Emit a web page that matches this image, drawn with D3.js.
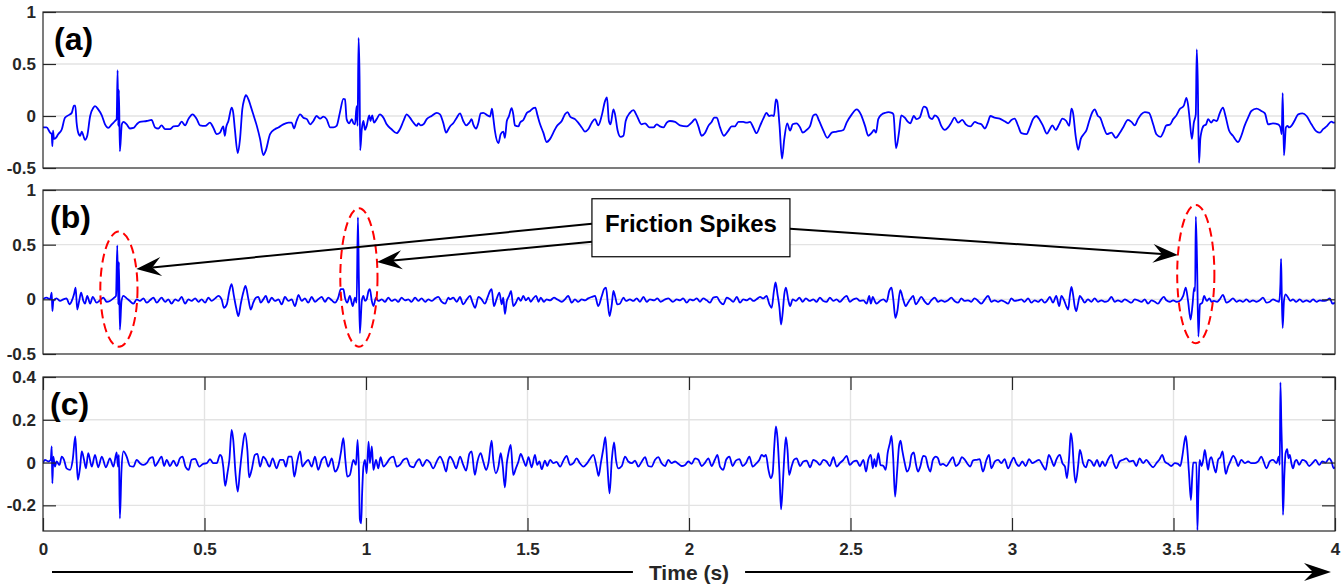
<!DOCTYPE html>
<html>
<head>
<meta charset="utf-8">
<script src="https://cdn.jsdelivr.net/npm/d3@7"></script>
<style>
  body { margin: 0; background: #fff; }
  svg { display: block; font-family: "Liberation Sans", Arial, Helvetica, sans-serif; }
</style>
</head>
<body>
<svg id="chart" width="1343" height="587"></svg>
<script>
// ---- Signals: [time (s), amplitude] ----
// (a) raw signal
const signalA = [
[0,-0.11],[0.011,-0.11],[0.022,-0.16],[0.027,-0.175],[0.029,-0.29],[0.031,-0.14],[0.034,-0.22],[0.040,-0.21],[0.047,-0.175],[0.058,-0.13],
[0.068,-0.016],[0.078,0.006],[0.089,0.03],[0.096,0.10],[0.100,0.10],[0.104,-0.064],[0.109,-0.16],[0.115,-0.19],[0.120,-0.15],[0.125,-0.19],
[0.130,-0.23],[0.137,-0.19],[0.146,0],[0.156,0.08],[0.161,0.095],[0.171,0.064],[0.182,0.006],[0.192,-0.08],[0.202,-0.115],[0.213,-0.08],
[0.223,-0.048],[0.228,-0.03],[0.231,0.44],[0.233,-0.095],[0.235,0.25],[0.238,-0.34],[0.244,-0.08],[0.249,-0.057],[0.259,-0.08],[0.269,-0.12],
[0.280,-0.115],[0.290,-0.08],[0.300,-0.057],[0.321,-0.048],[0.336,-0.038],[0.347,-0.11],[0.357,-0.12],[0.367,-0.09],[0.378,-0.127],[0.393,-0.127],
[0.404,-0.10],[0.419,-0.095],[0.429,-0.054],[0.440,-0.09],[0.450,-0.03],[0.463,0.016],[0.476,-0.03],[0.486,-0.09],[0.502,-0.095],[0.517,-0.064],
[0.527,-0.11],[0.538,-0.175],[0.548,-0.16],[0.558,-0.10],[0.563,-0.19],[0.567,-0.11],[0.574,-0.048],[0.584,0.08],[0.589,0.03],[0.594,-0.127],
[0.603,-0.357],[0.610,-0.22],[0.617,0.064],[0.623,0.16],[0.628,0.20],[0.636,0.16],[0.643,0.095],[0.651,0.016],[0.662,-0.095],[0.672,-0.22],
[0.682,-0.375],[0.690,-0.33],[0.703,-0.175],[0.718,-0.127],[0.729,-0.11],[0.744,-0.08],[0.760,-0.064],[0.770,-0.064],[0.777,-0.12],[0.785,-0.048],
[0.796,0.016],[0.806,-0.016],[0.817,-0.03],[0.827,-0.08],[0.837,-0.048],[0.847,0],[0.858,-0.025],[0.868,-0.006],[0.878,-0.03],[0.889,-0.11],
[0.899,-0.11],[0.909,-0.095],[0.919,0.03],[0.930,0.165],[0.935,0.16],[0.940,-0.03],[0.948,-0.07],[0.956,-0.03],[0.961,-0.07],[0.966,-0.08],
[0.971,0.095],[0.974,-0.095],[0.977,0.75],[0.980,0.38],[0.982,-0.33],[0.987,-0.127],[0.992,-0.048],[0.997,-0.134],[1.002,-0.095],[1.010,0.006],
[1.014,-0.048],[1.019,0.006],[1.025,-0.064],[1.033,-0.03],[1.043,0.016],[1.054,-0.016],[1.064,-0.08],[1.079,-0.127],[1.095,-0.165],[1.105,-0.127],
[1.116,-0.048],[1.126,0.016],[1.136,-0.016],[1.147,-0.064],[1.157,-0.095],[1.162,-0.07],[1.169,-0.09],[1.178,-0.08],[1.188,-0.03],[1.203,0],
[1.219,0.03],[1.229,0.016],[1.239,-0.064],[1.248,-0.16],[1.255,-0.127],[1.260,-0.10],[1.270,-0.07],[1.281,-0.016],[1.291,0.025],[1.301,-0.048],
[1.310,-0.09],[1.320,-0.064],[1.327,-0.03],[1.332,-0.08],[1.341,-0.12],[1.348,-0.064],[1.355,0.025],[1.363,0.03],[1.376,0.006],[1.384,-0.006],
[1.390,0.07],[1.394,-0.016],[1.399,-0.14],[1.410,-0.26],[1.417,-0.175],[1.425,-0.15],[1.430,-0.21],[1.436,-0.048],[1.442,-0.006],[1.451,0.076],
[1.456,0.016],[1.461,-0.09],[1.472,-0.10],[1.477,-0.064],[1.487,-0.038],[1.498,0.03],[1.508,0.048],[1.518,0.076],[1.524,0.08],[1.531,0.006],
[1.539,-0.08],[1.549,-0.16],[1.559,-0.25],[1.570,-0.22],[1.580,-0.16],[1.590,-0.10],[1.606,-0.048],[1.616,0.016],[1.624,0.038],[1.632,-0.006],
[1.647,-0.03],[1.657,-0.064],[1.668,-0.11],[1.678,-0.15],[1.688,-0.127],[1.699,-0.064],[1.709,-0.03],[1.719,-0.09],[1.730,0.006],[1.740,0.143],
[1.746,0.18],[1.752,-0.048],[1.757,-0.08],[1.766,0.064],[1.771,0.016],[1.779,-0.14],[1.788,-0.20],[1.797,-0.19],[1.804,-0.048],[1.817,0.03],
[1.828,0.057],[1.838,0.006],[1.853,-0.08],[1.864,-0.07],[1.877,-0.11],[1.890,-0.11],[1.900,-0.08],[1.910,-0.10],[1.921,-0.11],[1.931,-0.064],
[1.941,-0.048],[1.957,-0.057],[1.972,-0.09],[1.993,-0.10],[2.008,-0.064],[2.019,-0.03],[2.029,-0.10],[2.039,-0.19],[2.050,-0.16],[2.060,-0.095],
[2.070,-0.057],[2.078,-0.016],[2.086,-0.016],[2.096,-0.11],[2.108,-0.19],[2.122,-0.14],[2.132,-0.10],[2.142,-0.10],[2.153,-0.057],[2.168,-0.057],
[2.178,-0.064],[2.189,-0.057],[2.199,-0.11],[2.209,-0.165],[2.220,-0.095],[2.230,-0.025],[2.240,0.03],[2.248,0],[2.256,0.006],[2.263,0],
[2.269,0.16],[2.273,0.143],[2.280,-0.08],[2.288,-0.41],[2.295,-0.22],[2.304,-0.07],[2.313,-0.14],[2.321,-0.08],[2.333,-0.07],[2.344,-0.11],
[2.352,-0.16],[2.364,-0.134],[2.375,-0.095],[2.385,0.006],[2.393,0.016],[2.403,-0.048],[2.416,-0.14],[2.428,-0.21],[2.442,-0.16],[2.457,-0.15],
[2.478,-0.134],[2.488,-0.064],[2.504,0.016],[2.519,0.064],[2.532,0.016],[2.545,-0.095],[2.555,-0.19],[2.566,-0.16],[2.573,-0.134],[2.579,-0.16],
[2.586,-0.03],[2.597,0.016],[2.607,0.03],[2.617,0.038],[2.628,0.03],[2.633,0.016],[2.641,-0.31],[2.650,-0.16],[2.657,0.006],[2.668,-0.016],
[2.678,-0.057],[2.685,-0.07],[2.696,0],[2.704,-0.03],[2.714,-0.016],[2.727,0.09],[2.735,0.08],[2.745,-0.016],[2.753,-0.03],[2.761,0.006],
[2.771,-0.016],[2.781,-0.095],[2.792,-0.134],[2.802,-0.11],[2.812,-0.064],[2.822,-0.016],[2.833,-0.064],[2.846,-0.038],[2.857,-0.08],[2.871,-0.10],
[2.885,-0.057],[2.895,-0.07],[2.905,-0.08],[2.916,-0.12],[2.926,-0.057],[2.933,0],[2.946,-0.016],[2.962,-0.025],[2.977,-0.05],[2.988,-0.07],
[2.998,-0.038],[3.008,-0.025],[3.019,-0.095],[3.029,-0.165],[3.045,-0.175],[3.055,-0.11],[3.065,-0.03],[3.075,0],[3.086,-0.038],[3.096,-0.095],
[3.108,-0.17],[3.117,-0.127],[3.125,-0.09],[3.135,-0.134],[3.146,-0.08],[3.156,-0.025],[3.168,-0.048],[3.177,-0.095],[3.184,0.07],[3.189,0.03],
[3.197,-0.19],[3.205,-0.325],[3.213,-0.22],[3.222,-0.175],[3.230,-0.14],[3.240,-0.038],[3.249,0.038],[3.256,0.064],[3.266,0],[3.273,-0.016],
[3.284,-0.11],[3.294,-0.175],[3.308,-0.16],[3.321,-0.21],[3.334,-0.16],[3.344,-0.11],[3.359,-0.038],[3.370,-0.057],[3.380,-0.09],[3.390,-0.03],
[3.400,0.016],[3.411,0.038],[3.424,0.03],[3.437,-0.08],[3.447,-0.175],[3.460,-0.20],[3.468,-0.16],[3.478,-0.09],[3.489,-0.083],[3.499,-0.03],
[3.509,0.006],[3.519,0.064],[3.532,0.10],[3.540,0.175],[3.545,0.11],[3.550,-0.03],[3.557,-0.22],[3.563,-0.064],[3.569,0.016],[3.572,0.64],
[3.575,0.35],[3.579,-0.45],[3.583,-0.22],[3.586,-0.16],[3.593,-0.095],[3.601,-0.08],[3.607,-0.03],[3.617,-0.064],[3.624,-0.038],[3.634,-0.048],
[3.643,0.025],[3.653,0.08],[3.661,0],[3.672,-0.14],[3.684,-0.19],[3.700,-0.25],[3.710,-0.19],[3.720,-0.095],[3.731,-0.016],[3.741,0.048],
[3.757,0.07],[3.772,0.048],[3.783,0.025],[3.793,-0.08],[3.808,-0.07],[3.824,-0.08],[3.831,-0.11],[3.835,-0.175],[3.838,0.22],[3.842,-0.38],
[3.848,-0.11],[3.853,-0.095],[3.858,-0.11],[3.865,-0.095],[3.876,-0.038],[3.886,0.016],[3.899,0.025],[3.912,0],[3.927,-0.08],[3.943,-0.15],
[3.953,-0.16],[3.963,-0.127],[3.974,-0.10],[3.989,-0.054],[3.996,-0.064],[4.0,-0.06]
];

// (b) filtered signal
const signalB = [
[0,0],[0.011,0.015],[0.022,0],[0.027,0.062],[0.029,-0.108],[0.032,-0.015],[0.042,0.009],[0.053,-0.015],[0.063,0],[0.073,0.009],
[0.082,-0.046],[0.089,-0.015],[0.096,0.046],[0.101,0.108],[0.106,-0.093],[0.112,-0.015],[0.118,0.062],[0.125,-0.015],[0.130,-0.040],[0.137,0.031],
[0.146,-0.040],[0.154,0.022],[0.166,-0.031],[0.174,-0.015],[0.187,0.015],[0.197,-0.022],[0.207,-0.015],[0.218,0.009],[0.226,0.031],[0.230,0.494],
[0.233,-0.046],[0.235,0.34],[0.238,-0.278],[0.243,-0.015],[0.249,0.031],[0.259,0.009],[0.269,-0.015],[0.280,-0.040],[0.290,0],[0.300,-0.015],
[0.311,0.009],[0.321,-0.031],[0.331,-0.009],[0.342,0.015],[0.352,-0.031],[0.367,0.015],[0.378,-0.022],[0.388,0],[0.398,-0.040],[0.409,0],
[0.419,-0.015],[0.429,0.022],[0.440,-0.040],[0.450,0],[0.460,-0.015],[0.471,0.009],[0.481,-0.022],[0.491,0],[0.502,-0.031],[0.512,0.015],
[0.522,-0.015],[0.533,0.009],[0.543,0.031],[0.553,0],[0.560,-0.077],[0.569,-0.046],[0.577,0.077],[0.584,0.139],[0.591,0.031],[0.598,-0.077],
[0.605,-0.154],[0.612,-0.046],[0.620,0.062],[0.627,0.123],[0.636,0],[0.643,-0.093],[0.651,-0.031],[0.659,0.015],[0.667,0.022],[0.674,-0.031],
[0.682,0],[0.690,0.031],[0.698,-0.031],[0.708,0.015],[0.718,-0.015],[0.729,0],[0.739,-0.046],[0.749,0.022],[0.760,-0.015],[0.770,0],
[0.780,-0.062],[0.791,0.040],[0.801,-0.015],[0.811,0.009],[0.821,-0.031],[0.832,0.022],[0.842,-0.022],[0.852,0],[0.863,0.022],[0.873,-0.022],
[0.883,0.015],[0.894,-0.009],[0.904,-0.031],[0.914,0.015],[0.922,0.093],[0.930,0.093],[0.935,0.015],[0.942,-0.031],[0.950,0.031],[0.959,-0.062],
[0.966,0.015],[0.971,-0.031],[0.975,0.75],[0.978,0.17],[0.981,-0.309],[0.987,-0.015],[0.992,0.031],[0.997,-0.015],[1.002,0],[1.008,0.077],
[1.012,0.093],[1.018,-0.015],[1.023,-0.062],[1.031,0.015],[1.038,-0.015],[1.049,0],[1.059,-0.022],[1.069,0.015],[1.079,-0.015],[1.090,0],
[1.100,-0.022],[1.110,0.015],[1.121,-0.009],[1.131,0],[1.141,-0.022],[1.152,0.015],[1.162,-0.015],[1.172,0.009],[1.183,-0.022],[1.193,0],
[1.203,-0.015],[1.214,0.009],[1.224,0.022],[1.234,-0.022],[1.245,-0.040],[1.255,0.015],[1.260,0],[1.270,0.015],[1.281,-0.022],[1.291,0.022],
[1.301,-0.046],[1.312,0],[1.322,0.031],[1.330,-0.031],[1.338,-0.077],[1.348,0.022],[1.358,0],[1.368,-0.040],[1.376,0.015],[1.384,0.077],
[1.389,0.093],[1.396,-0.062],[1.404,0],[1.413,0.062],[1.420,-0.046],[1.425,0.015],[1.430,-0.133],[1.436,-0.015],[1.443,0.031],[1.449,0.077],
[1.456,-0.062],[1.464,-0.031],[1.472,0.015],[1.479,-0.015],[1.487,0.031],[1.495,-0.009],[1.503,0.015],[1.510,-0.022],[1.518,0.009],[1.527,0.031],
[1.534,-0.022],[1.541,0.015],[1.551,-0.022],[1.559,0],[1.570,-0.009],[1.582,0.015],[1.592,0],[1.606,-0.022],[1.616,0],[1.626,0.031],
[1.637,-0.031],[1.647,0],[1.657,-0.022],[1.668,0],[1.678,-0.009],[1.688,0.009],[1.699,0.022],[1.709,0.031],[1.719,-0.062],[1.730,0.031],
[1.737,0.093],[1.743,0.108],[1.748,-0.015],[1.754,-0.154],[1.761,-0.046],[1.766,0.077],[1.771,0.031],[1.778,-0.046],[1.786,-0.040],[1.797,0.015],
[1.805,-0.015],[1.817,0],[1.828,-0.015],[1.838,0.009],[1.848,-0.022],[1.859,0.022],[1.869,-0.022],[1.879,0],[1.892,-0.009],[1.902,0.009],
[1.912,-0.022],[1.926,0],[1.936,0.009],[1.950,-0.022],[1.962,0],[1.972,-0.009],[1.982,0.009],[1.993,-0.031],[2.003,0],[2.013,-0.009],
[2.024,0.009],[2.034,-0.022],[2.044,0.009],[2.055,-0.009],[2.065,-0.031],[2.075,0.015],[2.086,0.022],[2.096,-0.022],[2.106,-0.046],[2.117,0.015],
[2.127,0],[2.137,-0.022],[2.148,0.022],[2.158,-0.031],[2.168,0],[2.179,-0.009],[2.189,0.009],[2.199,-0.015],[2.209,0],[2.220,0.022],
[2.230,0.009],[2.240,0.031],[2.249,-0.046],[2.256,-0.077],[2.263,0.077],[2.268,0.154],[2.274,0.046],[2.280,-0.077],[2.285,-0.231],[2.290,-0.123],
[2.295,0.046],[2.300,0.108],[2.308,-0.015],[2.313,-0.062],[2.321,0],[2.331,-0.015],[2.342,0.015],[2.352,-0.022],[2.362,0.009],[2.373,-0.015],
[2.385,0],[2.395,-0.022],[2.405,0.015],[2.416,-0.015],[2.426,-0.022],[2.436,0.015],[2.447,-0.015],[2.457,0],[2.467,-0.022],[2.478,0.009],
[2.488,0.031],[2.498,-0.022],[2.509,0],[2.519,0.009],[2.529,-0.015],[2.540,-0.009],[2.550,-0.040],[2.558,0.031],[2.563,-0.040],[2.569,0.022],
[2.576,-0.022],[2.581,-0.040],[2.591,-0.015],[2.602,0],[2.612,-0.022],[2.620,0.077],[2.627,0.108],[2.633,-0.015],[2.639,-0.170],[2.645,-0.108],
[2.654,0.083],[2.663,0],[2.671,-0.062],[2.678,-0.031],[2.685,0],[2.694,0.031],[2.702,-0.046],[2.709,-0.022],[2.719,0.022],[2.730,-0.022],
[2.740,-0.046],[2.750,-0.009],[2.761,0.015],[2.771,-0.022],[2.781,-0.009],[2.792,-0.022],[2.802,-0.009],[2.812,0.015],[2.822,-0.015],[2.833,-0.031],
[2.843,0.009],[2.853,-0.015],[2.864,-0.009],[2.874,-0.022],[2.884,0.009],[2.895,-0.015],[2.905,-0.040],[2.916,0],[2.926,0.031],[2.936,-0.022],
[2.946,-0.009],[2.957,-0.022],[2.967,-0.009],[2.977,-0.022],[2.988,-0.040],[2.998,0.009],[3.008,-0.015],[3.019,-0.009],[3.029,0],[3.039,-0.022],
[3.050,0.009],[3.060,-0.031],[3.070,-0.009],[3.081,-0.022],[3.091,0],[3.101,-0.031],[3.108,-0.015],[3.117,0.022],[3.127,-0.031],[3.137,0.031],
[3.146,-0.062],[3.153,0.031],[3.160,0],[3.168,-0.062],[3.174,-0.093],[3.179,0.031],[3.184,0.114],[3.189,0.046],[3.194,-0.062],[3.199,-0.108],
[3.204,-0.046],[3.210,0.031],[3.218,0],[3.225,-0.031],[3.235,0],[3.246,-0.022],[3.256,0.009],[3.266,-0.022],[3.277,-0.009],[3.287,-0.022],
[3.297,-0.015],[3.308,0.022],[3.318,-0.022],[3.328,-0.009],[3.339,-0.022],[3.349,0],[3.359,-0.015],[3.370,-0.031],[3.380,0],[3.390,-0.009],
[3.401,-0.022],[3.411,0],[3.421,-0.040],[3.432,-0.009],[3.442,-0.022],[3.452,-0.040],[3.462,0],[3.470,0.022],[3.478,-0.009],[3.489,-0.022],
[3.499,-0.009],[3.509,-0.022],[3.519,-0.015],[3.530,0.031],[3.538,0.108],[3.545,-0.015],[3.553,-0.185],[3.559,-0.046],[3.564,0.108],[3.567,0.077],
[3.569,0.756],[3.573,0.324],[3.577,-0.34],[3.582,-0.046],[3.589,-0.031],[3.595,0.031],[3.603,-0.015],[3.611,0.009],[3.618,-0.022],[3.625,-0.015],
[3.635,-0.022],[3.643,0],[3.653,0.040],[3.664,-0.031],[3.674,-0.015],[3.684,0.009],[3.695,-0.022],[3.705,-0.009],[3.715,-0.022],[3.726,0],
[3.736,-0.022],[3.746,-0.009],[3.757,-0.022],[3.767,-0.009],[3.777,0.015],[3.788,-0.031],[3.798,-0.022],[3.808,0],[3.819,-0.015],[3.827,-0.022],
[3.831,0.139],[3.833,0.37],[3.835,0.077],[3.838,-0.262],[3.842,-0.015],[3.847,0.046],[3.855,0.015],[3.862,-0.015],[3.870,0],[3.880,-0.022],
[3.891,0],[3.901,-0.022],[3.912,-0.009],[3.922,-0.022],[3.932,0],[3.943,-0.022],[3.953,-0.009],[3.963,-0.015],[3.974,-0.009],[3.984,0.009],
[3.992,-0.040],[4.0,-0.03]
];

// (c) residual signal
const signalC = [
[0,-0.003],[0.006,0.013],[0.017,0.005],[0.024,0.013],[0.027,0.075],[0.029,-0.097],[0.032,0.028],[0.037,-0.019],[0.042,0.005],[0.051,-0.011],
[0.058,0.028],[0.065,0.013],[0.073,-0.027],[0.084,-0.034],[0.092,0.013],[0.100,0.122],[0.104,0.013],[0.108,-0.081],[0.115,-0.019],[0.120,0.052],
[0.127,0.013],[0.133,-0.027],[0.140,0.044],[0.151,-0.019],[0.161,0.036],[0.171,-0.022],[0.182,0.028],[0.195,-0.022],[0.207,0.020],[0.218,-0.019],
[0.228,0.047],[0.232,-0.019],[0.235,0.036],[0.238,-0.261],[0.243,-0.034],[0.249,0.052],[0.259,0.028],[0.269,-0.016],[0.280,-0.019],[0.290,0.013],
[0.300,-0.003],[0.311,-0.011],[0.321,-0.003],[0.331,0.020],[0.340,0.025],[0.347,-0.016],[0.357,0.005],[0.367,0.028],[0.375,-0.016],[0.383,0.013],
[0.393,-0.016],[0.404,0.009],[0.414,-0.016],[0.424,0.020],[0.432,0.028],[0.441,-0.019],[0.451,-0.034],[0.460,0.013],[0.471,0.017],[0.484,-0.019],
[0.496,-0.006],[0.507,-0.003],[0.517,0.016],[0.527,-0.003],[0.538,-0.003],[0.548,0.036],[0.553,0.028],[0.558,-0.019],[0.564,-0.109],[0.571,-0.05],
[0.577,0.013],[0.584,0.153],[0.589,0.106],[0.596,-0.05],[0.603,-0.136],[0.610,-0.034],[0.618,0.075],[0.625,0.1375],[0.633,0.052],[0.638,-0.069],
[0.646,-0.034],[0.656,0.036],[0.664,0.041],[0.672,-0.019],[0.682,0.028],[0.690,0.013],[0.701,-0.019],[0.711,0.020],[0.723,-0.027],[0.734,0.013],
[0.744,0.013],[0.752,-0.019],[0.760,0.028],[0.770,0.028],[0.778,-0.066],[0.787,0.005],[0.796,0.052],[0.803,-0.019],[0.811,-0.003],[0.821,0.013],
[0.832,-0.019],[0.842,0.028],[0.852,-0.034],[0.863,0.013],[0.873,0.028],[0.883,-0.019],[0.894,0.020],[0.904,-0.042],[0.914,-0.019],[0.922,0.044],
[0.930,0.114],[0.936,0.013],[0.942,-0.066],[0.950,-0.058],[0.961,0.013],[0.969,-0.011],[0.974,0.106],[0.978,-0.034],[0.981,-0.266],[0.985,-0.284],
[0.988,-0.144],[0.992,-0.019],[0.997,0.013],[1.002,-0.05],[1.008,0.098],[1.012,-0.003],[1.018,0.075],[1.023,-0.034],[1.031,0.013],[1.038,-0.027],
[1.045,0.025],[1.054,-0.019],[1.064,-0.003],[1.074,0.020],[1.085,0.028],[1.095,-0.019],[1.105,-0.011],[1.116,0.013],[1.126,0.020],[1.136,-0.016],
[1.147,-0.022],[1.157,0.005],[1.165,0.016],[1.175,-0.016],[1.188,0.013],[1.198,0],[1.208,-0.027],[1.219,0.005],[1.229,0.028],[1.239,0],
[1.248,-0.042],[1.255,0.013],[1.260,0.028],[1.270,0.005],[1.279,-0.027],[1.291,0.028],[1.301,-0.011],[1.310,-0.0375],[1.320,0.041],[1.327,0.052],
[1.337,-0.058],[1.345,0.005],[1.355,0.044],[1.363,0.005],[1.372,-0.034],[1.379,-0.003],[1.389,0.103],[1.394,0.013],[1.402,-0.05],[1.410,-0.019],
[1.417,0.044],[1.423,-0.011],[1.430,-0.116],[1.436,-0.003],[1.441,0.044],[1.448,0.083],[1.456,-0.058],[1.464,-0.027],[1.472,0.005],[1.479,0.041],
[1.487,0.013],[1.495,-0.016],[1.503,0.025],[1.513,-0.022],[1.523,0.036],[1.530,-0.011],[1.537,0.005],[1.544,-0.031],[1.554,0.009],[1.561,-0.016],
[1.570,0.013],[1.580,-0.003],[1.590,0.003],[1.601,-0.019],[1.611,0.009],[1.621,0.031],[1.632,-0.011],[1.642,-0.003],[1.652,0.020],[1.662,-0.003],
[1.673,-0.019],[1.683,-0.006],[1.693,0.016],[1.704,0.036],[1.714,-0.022],[1.720,-0.0625],[1.727,-0.003],[1.735,0.067],[1.741,0.119],[1.747,-0.003],
[1.754,-0.144],[1.761,0.013],[1.768,0.094],[1.774,0.013],[1.781,-0.027],[1.792,-0.016],[1.802,0.028],[1.812,0.005],[1.823,-0.003],[1.833,0.009],
[1.843,-0.019],[1.854,0.005],[1.864,0.025],[1.874,-0.016],[1.884,-0.019],[1.895,0.013],[1.905,0.025],[1.915,-0.003],[1.926,-0.016],[1.936,0.013],
[1.946,-0.003],[1.957,0.005],[1.967,-0.006],[1.977,-0.016],[1.988,-0.011],[1.998,0.005],[2.008,-0.006],[2.019,0.020],[2.029,0.013],[2.039,-0.016],
[2.050,0],[2.060,0.020],[2.070,-0.016],[2.080,0.013],[2.088,0.036],[2.096,-0.019],[2.106,-0.034],[2.115,0.013],[2.125,0.028],[2.135,-0.016],
[2.145,0.009],[2.156,0.016],[2.166,-0.016],[2.176,-0.003],[2.187,0.028],[2.197,-0.019],[2.207,-0.006],[2.218,0.013],[2.225,0.036],[2.232,0.028],
[2.238,0.036],[2.246,-0.034],[2.253,-0.073],[2.259,-0.05],[2.264,0.075],[2.269,0.169],[2.274,0.114],[2.280,-0.05],[2.285,-0.219],[2.290,-0.1125],
[2.295,0.028],[2.300,0.119],[2.305,0.059],[2.310,-0.058],[2.318,-0.016],[2.325,0.013],[2.333,0.020],[2.344,-0.016],[2.354,0.005],[2.364,0.009],
[2.375,-0.022],[2.385,0.013],[2.395,0.005],[2.405,-0.011],[2.416,0.013],[2.426,0.005],[2.436,-0.016],[2.447,0.025],[2.457,-0.019],[2.467,-0.003],
[2.478,0.013],[2.488,0.031],[2.498,-0.011],[2.509,0.005],[2.519,0.009],[2.529,-0.016],[2.540,0.013],[2.548,-0.042],[2.555,0.013],[2.563,0.036],
[2.569,-0.027],[2.574,0.016],[2.579,-0.019],[2.586,0.044],[2.593,-0.011],[2.602,-0.016],[2.609,-0.034],[2.615,0.044],[2.622,0.091],[2.627,0.125],
[2.632,0.028],[2.638,-0.159],[2.644,-0.05],[2.650,0.075],[2.655,0.103],[2.660,0.059],[2.668,-0.003],[2.675,-0.042],[2.683,-0.019],[2.689,0.036],
[2.696,0.047],[2.702,-0.003],[2.709,-0.042],[2.716,-0.019],[2.725,0.031],[2.732,0.028],[2.740,-0.019],[2.747,-0.042],[2.755,0.013],[2.764,0.028],
[2.771,0.020],[2.778,-0.011],[2.786,-0.006],[2.797,-0.016],[2.807,0.005],[2.817,0.025],[2.826,-0.016],[2.836,-0.003],[2.845,0.025],[2.854,0.013],
[2.861,-0.003],[2.871,-0.019],[2.879,0.009],[2.890,0.013],[2.900,0.016],[2.910,-0.042],[2.921,0.013],[2.929,0.036],[2.936,-0.027],[2.947,0.005],
[2.957,0.013],[2.967,-0.003],[2.977,0.016],[2.988,-0.027],[2.998,0.005],[3.005,0.023],[3.014,-0.006],[3.022,-0.016],[3.032,0.005],[3.042,-0.016],
[3.053,0.016],[3.063,-0.003],[3.073,0.005],[3.084,0.013],[3.094,-0.011],[3.104,-0.034],[3.114,0.036],[3.122,0.013],[3.130,-0.016],[3.137,0.013],
[3.148,0.036],[3.156,-0.003],[3.164,-0.019],[3.170,-0.073],[3.177,0.028],[3.182,0.1375],[3.187,0.091],[3.192,-0.034],[3.197,-0.094],[3.205,-0.011],
[3.210,0.059],[3.215,0.036],[3.220,-0.003],[3.229,-0.022],[3.237,0.013],[3.246,0.005],[3.254,-0.016],[3.263,0.013],[3.272,-0.019],[3.280,0.005],
[3.288,-0.016],[3.297,0.013],[3.308,0.036],[3.315,-0.003],[3.323,-0.027],[3.333,0.005],[3.344,0.013],[3.354,0.020],[3.364,0.005],[3.375,0.009],
[3.385,-0.016],[3.395,0.020],[3.406,-0.003],[3.416,0.013],[3.426,-0.006],[3.437,-0.022],[3.447,-0.003],[3.457,0.016],[3.465,0.036],[3.473,0.005],
[3.483,-0.006],[3.493,-0.016],[3.504,-0.003],[3.514,-0.006],[3.521,-0.016],[3.528,0.036],[3.533,0.091],[3.538,0.125],[3.543,0.059],[3.548,-0.05],
[3.554,-0.175],[3.558,-0.066],[3.561,0],[3.571,0],[3.574,-0.316],[3.577,-0.144],[3.579,-0.05],[3.581,0.013],[3.587,-0.016],[3.592,0.013],
[3.597,0.059],[3.602,0.013],[3.607,-0.034],[3.612,0.013],[3.617,0.025],[3.625,-0.019],[3.631,-0.047],[3.638,0.013],[3.645,0.025],[3.652,0.052],
[3.657,-0.003],[3.662,-0.053],[3.669,-0.019],[3.676,0.005],[3.685,0.031],[3.693,0.013],[3.700,-0.016],[3.710,0.013],[3.721,-0.003],[3.731,0.005],
[3.741,-0.003],[3.752,-0.003],[3.762,0.005],[3.772,0.028],[3.777,0.013],[3.788,-0.027],[3.798,0.005],[3.808,0.013],[3.819,-0.003],[3.826,0.028],
[3.829,-0.011],[3.831,0.375],[3.834,0.169],[3.837,-0.019],[3.839,-0.245],[3.843,-0.066],[3.847,0.044],[3.852,0.0625],[3.856,0.020],[3.860,0.036],
[3.865,-0.003],[3.870,-0.027],[3.876,0.005],[3.881,0.013],[3.889,-0.011],[3.899,0.013],[3.910,0.005],[3.920,-0.016],[3.930,-0.003],[3.940,0.013],
[3.951,-0.011],[3.961,0.005],[3.971,0],[3.982,0.020],[3.989,0.005],[3.996,-0.027],[4.0,-0.02]
];

// ---- Axis ticks and labels ----
const timeTicks = [0, 0.5, 1, 1.5, 2, 2.5, 3, 3.5, 4];
const ampTicksAB = [-0.5, 0, 0.5, 1];
const ampTicksC = [-0.2, 0, 0.2, 0.4];
const panelLabels = ["(a)", "(b)", "(c)"];
const timeLabel = "Time (s)";
const calloutLabel = "Friction Spikes";
const spikeTimes = [0.235, 0.978, 3.569];

// ---- Layout ----
const svg = d3.select("#chart");
const left = 43, right = 1335;
const INK = "#262626";
const GRID = "#e3e3e3";

const x = d3.scaleLinear().domain([0, 4]).range([left, right]);

const panels = [
  { label: panelLabels[0], data: signalA, domain: [-0.5, 1], top: 12, bottom: 168, ticks: ampTicksAB, timeAxis: false },
  { label: panelLabels[1], data: signalB, domain: [-0.5, 1], top: 190, bottom: 354, ticks: ampTicksAB, timeAxis: false },
  { label: panelLabels[2], data: signalC, domain: [-0.32, 0.4], top: 377, bottom: 531, ticks: ampTicksC, timeAxis: true }
];

const fmt = d => String(d);

function styleAxis(g, labels) {
  g.select(".domain").remove();
  g.selectAll(".tick line").attr("stroke", INK).attr("stroke-width", 1.2);
  g.selectAll(".tick text")
    .attr("fill", INK)
    .attr("font-size", 17)
    .attr("font-weight", "bold")
    .attr("font-family", '"Liberation Sans", Arial, Helvetica, sans-serif');
  if (!labels) g.selectAll(".tick text").remove();
}

panels.forEach((p, i) => {
  const y = d3.scaleLinear().domain(p.domain).range([p.bottom, p.top]);
  p.y = y;
  const g = svg.append("g");
  const clipId = "clip" + i;
  svg.append("defs").append("clipPath").attr("id", clipId)
    .append("rect").attr("x", left).attr("y", p.top)
    .attr("width", right - left).attr("height", p.bottom - p.top);

  // grid
  const grid = g.append("g");
  grid.selectAll("line.h").data(p.ticks.filter(v => y(v) > p.top + 1 && y(v) < p.bottom - 1))
    .join("line").attr("class", "h")
    .attr("x1", left).attr("x2", right)
    .attr("y1", d => y(d)).attr("y2", d => y(d))
    .attr("stroke", GRID).attr("stroke-width", 1.4);
  if (p.timeAxis) {
    grid.selectAll("line.v").data(timeTicks.filter(t => t > 0 && t < 4))
      .join("line").attr("class", "v")
      .attr("x1", d => x(d)).attr("x2", d => x(d))
      .attr("y1", p.top).attr("y2", p.bottom)
      .attr("stroke", GRID).attr("stroke-width", 1.4);
  }

  // signal trace
  const line = d3.line().x(d => x(d[0])).y(d => y(d[1])).curve(d3.curveMonotoneX);
  g.append("path")
    .datum(p.data)
    .attr("clip-path", `url(#${clipId})`)
    .attr("d", line)
    .attr("fill", "none")
    .attr("stroke", "#0000ff")
    .attr("stroke-width", 1.8)
    .attr("stroke-linejoin", "round");

  // box
  g.append("rect")
    .attr("x", left).attr("y", p.top)
    .attr("width", right - left).attr("height", p.bottom - p.top)
    .attr("fill", "none").attr("stroke", INK).attr("stroke-width", 1.2);

  // y axes (ticks pointing inward)
  g.append("g").attr("transform", `translate(${left},0)`)
    .call(d3.axisLeft(y).tickValues(p.ticks).tickSize(-13).tickPadding(7).tickFormat(fmt))
    .call(s => styleAxis(s, true));
  g.append("g").attr("transform", `translate(${right},0)`)
    .call(d3.axisRight(y).tickValues(p.ticks).tickSize(-13).tickFormat(fmt))
    .call(s => styleAxis(s, false));

  if (p.timeAxis) {
    g.append("g").attr("transform", `translate(0,${p.bottom})`)
      .call(d3.axisBottom(x).tickValues(timeTicks).tickSize(-13).tickPadding(12).tickFormat(fmt))
      .call(s => styleAxis(s, true));
    g.append("g").attr("transform", `translate(0,${p.top})`)
      .call(d3.axisTop(x).tickValues(timeTicks).tickSize(-13).tickFormat(fmt))
      .call(s => styleAxis(s, false));
  }

  // panel label
  g.append("text")
    .attr("x", i === 0 ? 54 : 50).attr("y", p.top + 38)
    .attr("font-size", 32).attr("font-weight", "bold").attr("fill", "#000")
    .text(p.label);
});

// ---- Arrow helpers (concave-back head) ----
function arrowHead(g, x1, y1, x2, y2, L, Wd, N) {
  const dx = x2 - x1, dy = y2 - y1, len = Math.hypot(dx, dy);
  const ux = dx / len, uy = dy / len, nx = -uy, ny = ux;
  const pts = [
    [x2, y2],
    [x2 - L * ux + Wd * nx, y2 - L * uy + Wd * ny],
    [x2 - N * ux, y2 - N * uy],
    [x2 - L * ux - Wd * nx, y2 - L * uy - Wd * ny]
  ];
  g.append("path").attr("d", "M" + pts.map(q => q.join(",")).join("L") + "Z").attr("fill", "#000");
}
function arrow(g, x1, y1, x2, y2, L, Wd, N, sw) {
  const dx = x2 - x1, dy = y2 - y1, len = Math.hypot(dx, dy);
  g.append("line")
    .attr("x1", x1).attr("y1", y1)
    .attr("x2", x2 - dx / len * N).attr("y2", y2 - dy / len * N)
    .attr("stroke", "#000").attr("stroke-width", sw);
  arrowHead(g, x1, y1, x2, y2, L, Wd, N);
}

// ---- Friction spike annotation in panel (b) ----
const pb = panels[1];
const ann = svg.append("g");
const rings = [
  { t: spikeTimes[0], vTop: 0.62, vBot: -0.433, side: 1, vTip: 0.277 },
  { t: spikeTimes[1], vTop: 0.833, vBot: -0.433, side: 1, vTip: 0.341 },
  { t: spikeTimes[2], vTop: 0.863, vBot: -0.402, side: -1, vTip: 0.405 }
];
const rx = 18.6;
rings.forEach(r => {
  const cy = (pb.y(r.vTop) + pb.y(r.vBot)) / 2;
  const ry = (pb.y(r.vBot) - pb.y(r.vTop)) / 2;
  ann.append("ellipse")
    .attr("cx", x(r.t)).attr("cy", cy).attr("rx", rx).attr("ry", ry)
    .attr("fill", "none").attr("stroke", "#ff0000").attr("stroke-width", 2)
    .attr("stroke-dasharray", "9,5");
  const ty = pb.y(r.vTip);
  const k = Math.sqrt(Math.max(0, 1 - Math.pow((ty - cy) / ry, 2)));
  r.tip = [x(r.t) + r.side * rx * k, ty];
});

// callout box
const boxCx = x(2.006), boxTop = pb.y(0.92), boxW = 198, boxH = 58;
const boxX = boxCx - boxW / 2;
const starts = [
  [boxX, boxTop + 25],
  [boxX, boxTop + 43],
  [boxX + boxW, boxTop + 30]
];
rings.forEach((r, i) => arrow(ann, starts[i][0], starts[i][1], r.tip[0], r.tip[1], 25, 9.5, 16, 2));
ann.append("rect")
  .attr("x", boxX).attr("y", boxTop).attr("width", boxW).attr("height", boxH)
  .attr("fill", "#fff").attr("stroke", "#000").attr("stroke-width", 1.2);
ann.append("text")
  .attr("x", boxCx).attr("y", boxTop + 33)
  .attr("text-anchor", "middle")
  .attr("font-size", 24).attr("font-weight", "bold").attr("fill", "#000")
  .text(calloutLabel);

// ---- Time axis title with arrow ----
const tg = svg.append("g");
const tText = tg.append("text")
  .attr("x", (left + right) / 2).attr("y", 580)
  .attr("text-anchor", "middle")
  .attr("font-size", 21).attr("font-weight", "bold").attr("fill", INK)
  .text(timeLabel);
const bb = tText.node().getBBox();
const ay = 572;
tg.append("line").attr("x1", 52).attr("x2", bb.x - 16).attr("y1", ay).attr("y2", ay)
  .attr("stroke", "#000").attr("stroke-width", 2);
arrow(tg, bb.x + bb.width + 16, ay, 1331, ay, 27, 9, 18, 2);
</script>
</body>
</html>
